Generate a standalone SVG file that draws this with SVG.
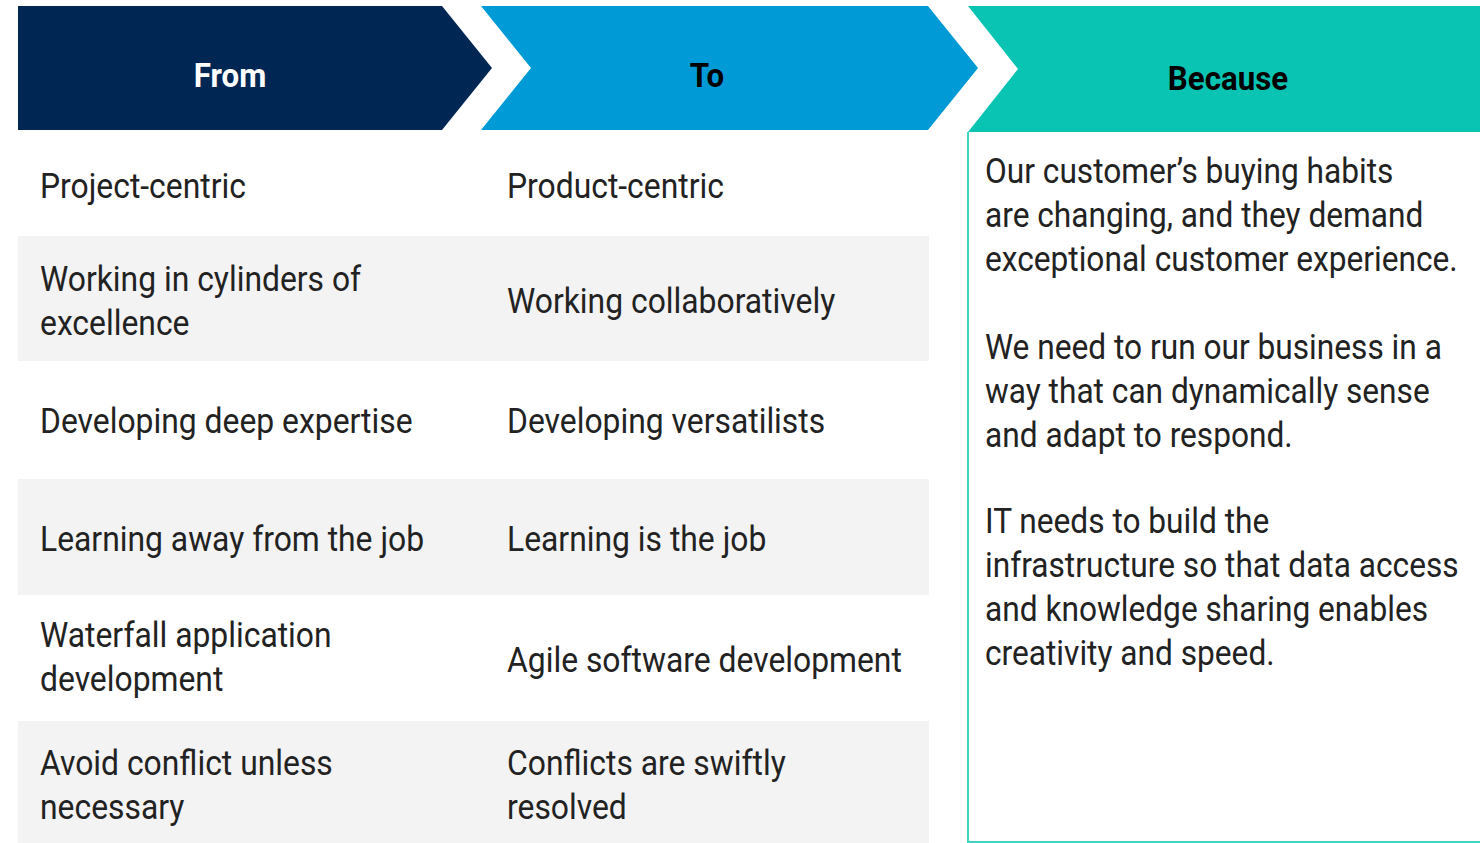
<svg xmlns="http://www.w3.org/2000/svg" width="1480" height="843" viewBox="0 0 1480 843">
<style>
.cell{font-family:Roboto,"Liberation Sans",sans-serif;font-size:35px;fill:#222222}
.hdr{font-family:Roboto,"Liberation Sans",sans-serif;font-size:34px;font-weight:700;text-anchor:middle}
.band{fill:#f3f3f3}
</style>
<rect width="1480" height="843" fill="#ffffff"/>
<g id="rows">
<rect class="band" x="18" y="236" width="911" height="125"/>
<rect class="band" x="18" y="479" width="911" height="116"/>
<rect class="band" x="18" y="721" width="911" height="122"/>
</g>
<g id="from-header">
<polygon points="18,6 442,6 492,68 442,130 18,130" fill="#002754"/>
<text class="hdr" fill="#ffffff" transform="translate(230 87) scale(0.92 1)">From</text>
</g>
<g id="to-header">
<polygon points="481,6 928,6 978,68 928,130 481,130 531,68" fill="#009ad7"/>
<text class="hdr" fill="#000000" transform="translate(707 87) scale(0.92 1)">To</text>
</g>
<g id="because-header">
<polygon points="968,6 1480,6 1480,132 968,132 1018,69" fill="#0ac4b3"/>
<text class="hdr" fill="#000000" transform="translate(1228 90) scale(0.92 1)">Because</text>
</g>
<g id="because-box">
<path d="M968,132 V842 H1480" fill="none" stroke="#3ed3c4" stroke-width="2"/>
<text class="cell" transform="translate(985 183) scale(0.905 1)"><tspan x="0" y="0">Our customer’s buying habits</tspan><tspan x="0" y="44">are changing, and they demand</tspan><tspan x="0" y="88">exceptional customer experience.</tspan></text>
<text class="cell" transform="translate(985 359) scale(0.905 1)"><tspan x="0" y="0">We need to run our business in a</tspan><tspan x="0" y="44">way that can dynamically sense</tspan><tspan x="0" y="88">and adapt to respond.</tspan></text>
<text class="cell" transform="translate(985 533) scale(0.905 1)"><tspan x="0" y="0">IT needs to build the</tspan><tspan x="0" y="44">infrastructure so that data access</tspan><tspan x="0" y="88">and knowledge sharing enables</tspan><tspan x="0" y="132">creativity and speed.</tspan></text>
</g>
<g id="from-cells">
<text class="cell" transform="translate(40 198) scale(0.91 1)">Project-centric</text>
<text class="cell" transform="translate(40 291) scale(0.91 1)"><tspan x="0" y="0">Working in cylinders of</tspan><tspan x="0" y="44">excellence</tspan></text>
<text class="cell" transform="translate(40 433) scale(0.91 1)">Developing deep expertise</text>
<text class="cell" transform="translate(40 551) scale(0.91 1)">Learning away from the job</text>
<text class="cell" transform="translate(40 647) scale(0.91 1)"><tspan x="0" y="0">Waterfall application</tspan><tspan x="0" y="44">development</tspan></text>
<text class="cell" transform="translate(40 775) scale(0.91 1)"><tspan x="0" y="0">Avoid conflict unless</tspan><tspan x="0" y="44">necessary</tspan></text>
</g>
<g id="to-cells">
<text class="cell" transform="translate(507 198) scale(0.91 1)">Product-centric</text>
<text class="cell" transform="translate(507 313) scale(0.91 1)">Working collaboratively</text>
<text class="cell" transform="translate(507 433) scale(0.91 1)">Developing versatilists</text>
<text class="cell" transform="translate(507 551) scale(0.91 1)">Learning is the job</text>
<text class="cell" transform="translate(507 672) scale(0.91 1)">Agile software development</text>
<text class="cell" transform="translate(507 775) scale(0.91 1)"><tspan x="0" y="0">Conflicts are swiftly</tspan><tspan x="0" y="44">resolved</tspan></text>
</g>
<g id="connectors"></g>
</svg>
